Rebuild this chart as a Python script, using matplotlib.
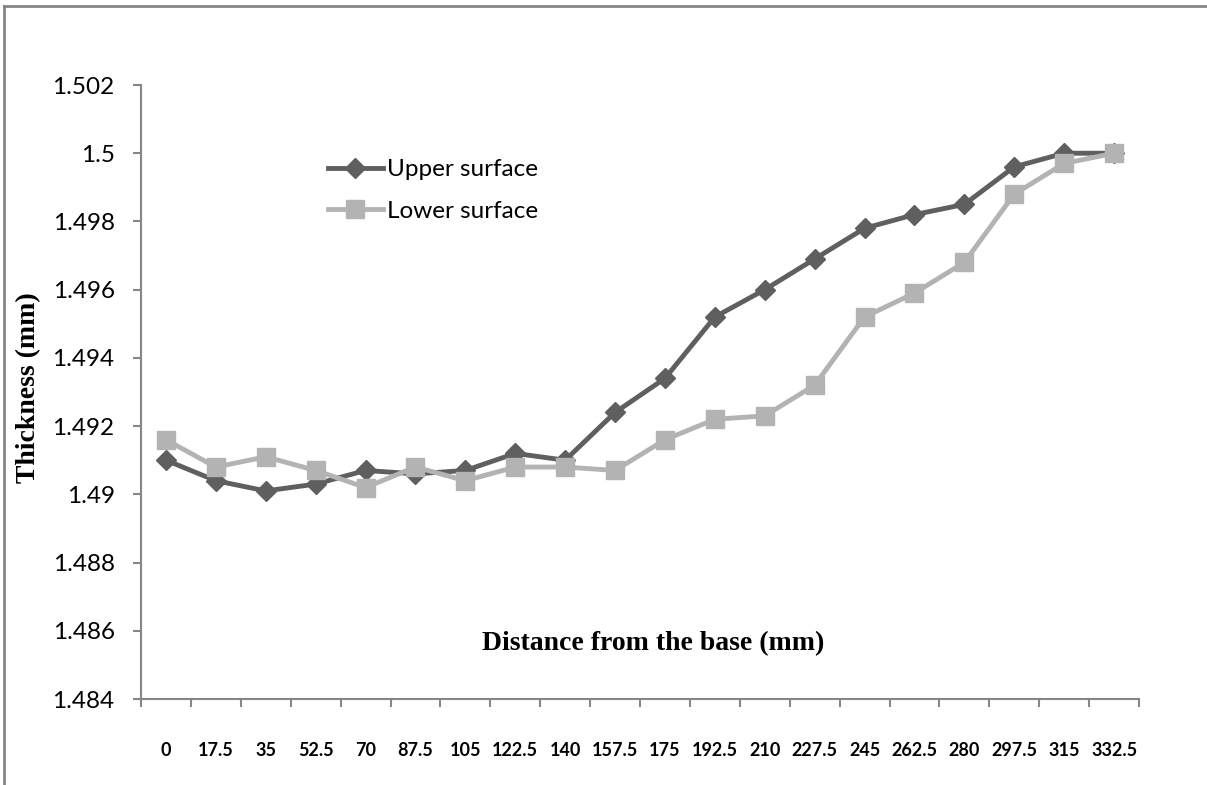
import numpy as np
import matplotlib
matplotlib.use("Agg")
import matplotlib.pyplot as plt
from matplotlib.lines import Line2D
from matplotlib.ticker import FixedLocator, FuncFormatter

# distance from base (mm) - categories
distance = ["0", "17.5", "35", "52.5", "70", "87.5", "105", "122.5", "140", "157.5",
            "175", "192.5", "210", "227.5", "245", "262.5", "280", "297.5", "315", "332.5"]

upper = [1.4910, 1.4904, 1.4901, 1.4903, 1.4907, 1.4906, 1.4907, 1.4912, 1.4910, 1.4924,
         1.4934, 1.4952, 1.4960, 1.4969, 1.4978, 1.4982, 1.4985, 1.4996, 1.5000, 1.5000]
lower = [1.4916, 1.4908, 1.4911, 1.4907, 1.4902, 1.4908, 1.4904, 1.4908, 1.4908, 1.4907,
         1.4916, 1.4922, 1.4923, 1.4932, 1.4952, 1.4959, 1.4968, 1.4988, 1.4997, 1.5000]

yticks = np.arange(1.484, 1.5021, 0.002)

dark = "#5f5f5f"
light = "#b3b3b3"
axis_col = "#868686"

fig = plt.figure(figsize=(12.07, 7.85), dpi=100)
ax = fig.add_axes([141/1207, 1-699/785, 998/1207, 614/785])

x = np.arange(len(distance))
ax.plot(x, upper, color=dark, lw=3.5, marker="D", ms=10, mec=dark, mfc=dark,
        label="Upper surface", zorder=3)
ax.plot(x, lower, color=light, lw=3.5, marker="s", ms=13, mec=light, mfc=light,
        label="Lower surface", zorder=4)

ax.set_xlim(-0.5, len(distance) - 0.5)
ax.set_ylim(1.484, 1.502)

for s in ["top", "right"]:
    ax.spines[s].set_visible(False)
for s in ["left", "bottom"]:
    ax.spines[s].set_color(axis_col)
    ax.spines[s].set_linewidth(1.5)

ax.set_yticks(yticks)
ax.yaxis.set_major_formatter(FuncFormatter(lambda v, p: f"{v:.3f}".rstrip("0").rstrip(".")))
ax.tick_params(axis="y", direction="out", length=6, width=1.5, color=axis_col,
               pad=13, labelsize=17.5)
for t in ax.get_yticklabels():
    t.set_fontfamily("Lato")

ax.set_xticks(x)
ax.set_xticklabels(distance, fontfamily="Lato", fontweight="bold", fontsize=13)
ax.xaxis.set_minor_locator(FixedLocator(np.arange(-0.5, len(distance), 1)))
ax.tick_params(axis="x", which="major", length=0, pad=31)
ax.tick_params(axis="x", which="minor", direction="out", length=6, width=1.5, color=axis_col)

ax.set_xlabel("Distance from the base (mm)", fontfamily="Liberation Serif",
              fontweight="bold", fontsize=20)
ax.xaxis.set_label_coords(0.513, 0.110)
ax.set_ylabel("Thickness (mm)", fontfamily="Liberation Serif", fontweight="bold", fontsize=20)
ax.yaxis.set_label_coords(-0.100, 0.5065)

leg = ax.legend(loc="upper left", bbox_to_anchor=(0.165, 0.915), frameon=False,
                prop={"family": "Lato", "size": 17.5}, handlelength=2.3,
                handletextpad=0.15, labelspacing=0.86)

# outer chart border (left and top edges visible)
fig.add_artist(Line2D([4/1207, 4/1207], [0, 1 - 6/785], transform=fig.transFigure,
                      color=axis_col, lw=2))
fig.add_artist(Line2D([4/1207, 1], [1 - 6/785, 1 - 6/785], transform=fig.transFigure,
                      color=axis_col, lw=2))

fig.savefig("out.png", dpi=100)
